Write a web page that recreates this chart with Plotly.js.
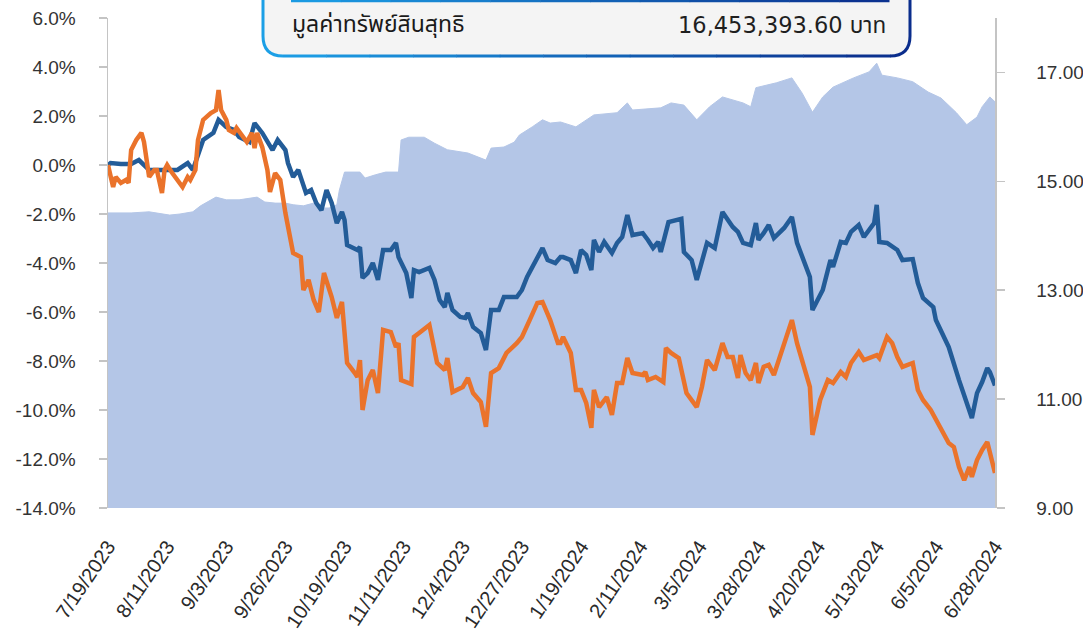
<!DOCTYPE html>
<html>
<head>
<meta charset="utf-8">
<script src="https://cdn.plot.ly/plotly-3.0.1.min.js"></script>
<style>html,body{margin:0;padding:0;background:#fff;}#chart{width:1083px;height:632px;}</style>
</head>
<body>
<div id="chart"></div>
<script>
// ---------- DATA ----------
const navDates = ['2023-07-19','2023-07-28','2023-08-04','2023-08-12','2023-08-16','2023-08-21','2023-08-24','2023-08-28','2023-08-30','2023-09-03',
'2023-09-08','2023-09-15','2023-09-18','2023-09-22','2023-09-26','2023-09-29','2023-10-03','2023-10-07','2023-10-09','2023-10-13',
'2023-10-16','2023-10-17','2023-10-19','2023-10-25','2023-10-27','2023-10-31','2023-11-04','2023-11-09','2023-11-10','2023-11-13',
'2023-11-19','2023-11-23','2023-11-28','2023-12-06','2023-12-13','2023-12-15','2023-12-20','2023-12-24','2023-12-26','2023-12-31',
'2024-01-04','2024-01-07','2024-01-11','2024-01-17','2024-01-24','2024-02-02','2024-02-06','2024-02-08','2024-02-19','2024-02-23',
'2024-02-28','2024-03-04','2024-03-09','2024-03-14','2024-03-22','2024-03-25','2024-03-27','2024-04-04','2024-04-10','2024-04-14',
'2024-04-18','2024-04-22','2024-04-26','2024-05-04','2024-05-10','2024-05-13','2024-05-15','2024-05-21','2024-05-27','2024-06-02',
'2024-06-07','2024-06-13','2024-06-17','2024-06-21','2024-06-23','2024-06-26','2024-06-28'];
const navValues = [14.42,14.42,14.44,14.38,14.40,14.44,14.55,14.66,14.71,14.66,
14.66,14.71,14.62,14.60,14.60,14.57,14.55,14.60,14.51,14.51,
14.57,14.84,15.17,15.17,15.06,15.12,15.17,15.17,15.76,15.81,
15.81,15.70,15.58,15.52,15.39,15.61,15.63,15.72,15.85,16.00,
16.13,16.07,16.09,16.00,16.22,16.26,16.44,16.31,16.35,16.44,
16.40,16.13,16.37,16.55,16.44,16.37,16.72,16.81,16.90,16.62,
16.27,16.55,16.73,16.90,17.01,17.17,16.95,16.90,16.83,16.64,
16.53,16.26,16.04,16.18,16.37,16.55,16.46];

const fundDates = ['2023-07-19','2023-07-20','2023-07-24','2023-07-28','2023-07-31','2023-08-04','2023-08-08','2023-08-15','2023-08-19','2023-08-21',
'2023-08-25','2023-08-29','2023-08-31','2023-09-03','2023-09-06','2023-09-08','2023-09-12','2023-09-14','2023-09-17','2023-09-21',
'2023-09-23','2023-09-26','2023-09-27','2023-09-29','2023-10-01','2023-10-02','2023-10-04','2023-10-06','2023-10-08','2023-10-10',
'2023-10-12','2023-10-14','2023-10-16','2023-10-18','2023-10-19','2023-10-20','2023-10-24','2023-10-25','2023-10-26','2023-10-28',
'2023-10-30','2023-11-01','2023-11-03','2023-11-06','2023-11-08','2023-11-09','2023-11-12','2023-11-14','2023-11-15','2023-11-17',
'2023-11-21','2023-11-23','2023-11-25','2023-11-27','2023-11-28','2023-11-30','2023-12-03','2023-12-05','2023-12-06','2023-12-08',
'2023-12-11','2023-12-13','2023-12-15','2023-12-18','2023-12-20','2023-12-25','2023-12-27','2023-12-29','2024-01-01','2024-01-04',
'2024-01-06','2024-01-09','2024-01-11','2024-01-12','2024-01-15','2024-01-17','2024-01-19','2024-01-21','2024-01-23','2024-01-24',
'2024-01-26','2024-01-28','2024-01-31','2024-02-02','2024-02-04','2024-02-06','2024-02-08','2024-02-12','2024-02-14','2024-02-16',
'2024-02-18','2024-02-19','2024-02-22','2024-02-27','2024-02-28','2024-03-02','2024-03-04','2024-03-08','2024-03-11','2024-03-14',
'2024-03-18','2024-03-20','2024-03-22','2024-03-25','2024-03-27','2024-03-28','2024-03-30','2024-04-01','2024-04-03','2024-04-07',
'2024-04-10','2024-04-12','2024-04-17','2024-04-18','2024-04-22','2024-04-24','2024-04-25','2024-04-26','2024-04-29','2024-05-01',
'2024-05-03','2024-05-06','2024-05-08','2024-05-12','2024-05-13','2024-05-14','2024-05-17','2024-05-21','2024-05-23','2024-05-27',
'2024-05-29','2024-05-31','2024-06-04','2024-06-05','2024-06-10','2024-06-14','2024-06-17','2024-06-19','2024-06-21','2024-06-23',
'2024-06-25','2024-06-26','2024-06-28'];
const fundValues = [0.0,0.08,0.04,0.04,0.20,-0.20,-0.20,-0.20,0.08,-0.20,
1.02,1.31,1.84,1.55,1.43,1.14,0.94,1.71,1.31,0.61,
1.02,0.61,0.08,-0.49,-0.20,-0.49,-1.14,-1.02,-1.55,-1.84,
-1.02,-1.55,-2.37,-1.92,-2.24,-3.27,-3.47,-3.35,-4.61,-4.41,
-4.00,-4.69,-3.47,-3.47,-3.18,-3.76,-4.41,-5.43,-4.29,-4.37,
-4.20,-4.69,-5.51,-5.80,-5.22,-5.92,-6.20,-6.24,-6.04,-6.61,
-6.86,-7.55,-5.92,-5.92,-5.39,-5.39,-5.10,-4.57,-4.00,-3.39,
-3.88,-4.00,-3.76,-3.76,-3.88,-4.41,-3.47,-3.67,-4.29,-3.06,
-3.55,-3.14,-3.59,-3.18,-2.94,-2.04,-2.86,-2.78,-3.06,-3.39,
-3.14,-3.55,-2.33,-2.20,-3.55,-3.88,-4.69,-3.18,-3.39,-1.92,
-2.53,-2.73,-3.18,-3.27,-2.37,-3.06,-2.78,-2.45,-2.98,-2.57,
-2.12,-3.18,-4.57,-5.92,-5.10,-4.29,-3.88,-4.16,-3.14,-3.18,
-2.73,-2.45,-2.94,-2.37,-1.63,-3.14,-3.18,-3.47,-3.88,-3.84,
-4.82,-5.43,-5.80,-6.33,-7.43,-8.78,-9.71,-10.33,-9.31,-8.86,
-8.29,-8.45,-9.00];

const benchDates = ['2023-07-19','2023-07-21','2023-07-22','2023-07-24','2023-07-26','2023-07-27','2023-07-28','2023-07-30','2023-08-01','2023-08-02',
'2023-08-04','2023-08-06','2023-08-07','2023-08-09','2023-08-10','2023-08-11','2023-08-13','2023-08-16','2023-08-17','2023-08-19',
'2023-08-20','2023-08-22','2023-08-23','2023-08-25','2023-08-28','2023-08-30','2023-08-31','2023-09-01','2023-09-03','2023-09-04',
'2023-09-06','2023-09-07','2023-09-10','2023-09-11','2023-09-13','2023-09-14','2023-09-15','2023-09-17','2023-09-19','2023-09-20',
'2023-09-22','2023-09-24','2023-09-26','2023-09-29','2023-10-02','2023-10-03','2023-10-05','2023-10-07','2023-10-09','2023-10-11',
'2023-10-14','2023-10-16','2023-10-18','2023-10-20','2023-10-23','2023-10-24','2023-10-25','2023-10-26','2023-10-28','2023-10-30',
'2023-11-01','2023-11-03','2023-11-06','2023-11-08','2023-11-09','2023-11-10','2023-11-14','2023-11-15','2023-11-17','2023-11-21',
'2023-11-24','2023-11-27','2023-11-28','2023-11-30','2023-12-04','2023-12-06','2023-12-08','2023-12-11','2023-12-13','2023-12-15',
'2023-12-18','2023-12-21','2023-12-25','2023-12-27','2023-12-30','2024-01-02','2024-01-04','2024-01-07','2024-01-10','2024-01-11',
'2024-01-12','2024-01-15','2024-01-17','2024-01-19','2024-01-21','2024-01-23','2024-01-24','2024-01-26','2024-01-29','2024-01-31',
'2024-02-02','2024-02-04','2024-02-06','2024-02-08','2024-02-12','2024-02-13','2024-02-14','2024-02-17','2024-02-20','2024-02-21',
'2024-02-23','2024-02-26','2024-02-29','2024-03-04','2024-03-06','2024-03-08','2024-03-11','2024-03-14','2024-03-16','2024-03-18',
'2024-03-20','2024-03-21','2024-03-23','2024-03-25','2024-03-27','2024-03-28','2024-03-30','2024-04-01','2024-04-03','2024-04-06',
'2024-04-10','2024-04-12','2024-04-17','2024-04-18','2024-04-21','2024-04-24','2024-04-26','2024-04-29','2024-05-01','2024-05-03',
'2024-05-06','2024-05-08','2024-05-13','2024-05-14','2024-05-17','2024-05-19','2024-05-21','2024-05-23','2024-05-27','2024-05-29',
'2024-05-31','2024-06-03','2024-06-05','2024-06-10','2024-06-12','2024-06-14','2024-06-16','2024-06-18','2024-06-19','2024-06-21',
'2024-06-23','2024-06-25','2024-06-28'];
const benchValues = [0.0,-0.90,-0.49,-0.73,-0.61,-0.73,0.61,1.02,1.31,0.94,
-0.49,-0.20,-0.20,-1.14,-0.20,0.0,-0.33,-0.73,-0.90,-0.49,
-0.61,-0.20,1.02,1.84,2.12,2.24,3.06,2.24,1.84,1.43,
1.31,1.51,1.10,0.94,1.31,0.69,1.31,0.73,-0.20,-1.10,
-0.33,-0.61,-1.96,-3.59,-3.76,-5.10,-4.69,-5.51,-6.00,-4.41,
-5.39,-6.24,-5.59,-8.08,-8.49,-8.65,-7.96,-10.00,-8.78,-8.37,
-9.31,-6.73,-6.82,-7.43,-7.27,-8.78,-8.94,-7.02,-6.86,-6.53,
-8.08,-8.37,-7.88,-9.27,-9.06,-8.69,-9.31,-9.67,-10.69,-8.49,
-8.29,-7.67,-7.27,-7.02,-6.33,-5.63,-5.59,-6.33,-7.27,-7.27,
-7.02,-7.67,-9.18,-9.18,-9.71,-10.73,-9.18,-9.88,-9.47,-10.20,
-8.90,-8.90,-7.88,-8.49,-8.57,-8.45,-8.78,-8.65,-8.86,-7.47,
-7.67,-7.88,-9.31,-9.88,-9.06,-7.96,-8.37,-7.27,-7.84,-7.84,
-8.69,-7.76,-8.49,-8.78,-8.08,-8.90,-8.24,-8.16,-8.57,-7.55,
-6.33,-7.27,-9.06,-11.02,-9.59,-8.78,-8.90,-8.45,-8.65,-8.08,
-7.63,-7.96,-7.76,-7.88,-7.02,-7.27,-7.84,-8.24,-8.08,-9.18,
-9.59,-10.00,-10.41,-11.35,-11.51,-12.33,-12.86,-12.33,-12.73,-12.04,
-11.63,-11.31,-12.57];

const xTickVals = ['2023-07-19','2023-08-11','2023-09-03','2023-09-26','2023-10-19','2023-11-11','2023-12-04','2023-12-27',
'2024-01-19','2024-02-11','2024-03-05','2024-03-28','2024-04-20','2024-05-13','2024-06-05','2024-06-28'];
const xTickText = ['7/19/2023','8/11/2023','9/3/2023','9/26/2023','10/19/2023','11/11/2023','12/4/2023','12/27/2023',
'1/19/2024','2/11/2024','3/5/2024','3/28/2024','4/20/2024','5/13/2024','6/5/2024','6/28/2024'];
const pctTickVals = [-14,-12,-10,-8,-6,-4,-2,0,2,4,6];
const pctTickText = ['-14.0%','-12.0%','-10.0%','-8.0%','-6.0%','-4.0%','-2.0%','0.0%','2.0%','4.0%','6.0%'];
const navTickVals = [9,11,13,15,17];

const boxLabel = 'มูลค่าทรัพย์สินสุทธิ';
const boxValue = '16,453,393.60 บาท';

// ---------- LAYOUT HELPERS ----------
const W = 1083, H = 632;
const PL = 108, PR = 995, PT = 18, PB = 508;
const fx = x => (x - PL) / (PR - PL);
const fy = y => (PB - y) / (PB - PT);
const pt = (x, y) => fx(x).toFixed(5) + ',' + fy(y).toFixed(5);

function mix(c0, c1, t) {
  const a = [1,3,5].map(i => parseInt(c0.substr(i,2),16));
  const b = [1,3,5].map(i => parseInt(c1.substr(i,2),16));
  return 'rgb(' + a.map((v,k) => Math.round(v + (b[k]-v)*t)).join(',') + ')';
}

const bx = {L: 263, R: 910, T: -30, B: 56, r: 20};
const cA = '#1c9fe6', cB = '#0a2d8c';
const shapes = [];
shapes.push({type:'path', xref:'paper', yref:'paper', layer:'above',
  path: 'M' + pt(bx.L,bx.T) + ' L' + pt(bx.L,bx.B-bx.r) + ' Q' + pt(bx.L,bx.B) + ' ' + pt(bx.L+bx.r,bx.B) +
        ' L' + pt(bx.R-bx.r,bx.B) + ' Q' + pt(bx.R,bx.B) + ' ' + pt(bx.R,bx.B-bx.r) + ' L' + pt(bx.R,bx.T) + ' Z',
  fillcolor:'#f4f4f4', line:{width:0}});
shapes.push({type:'path', xref:'paper', yref:'paper', layer:'above',
  path: 'M' + pt(bx.L,bx.T) + ' L' + pt(bx.L,bx.B-bx.r) + ' Q' + pt(bx.L,bx.B) + ' ' + pt(bx.L+bx.r,bx.B),
  line:{color:cA, width:3}});
const N = 14;
for (let i = 0; i < N; i++) {
  const x0 = bx.L + bx.r + (bx.R - bx.L - 2*bx.r) * i / N;
  const x1 = bx.L + bx.r + (bx.R - bx.L - 2*bx.r) * (i+1) / N;
  shapes.push({type:'line', xref:'paper', yref:'paper', layer:'above',
    x0: fx(x0), x1: fx(x1 + 0.5), y0: fy(bx.B), y1: fy(bx.B),
    line:{color: mix(cA, cB, (i+0.5)/N), width:3}});
}
shapes.push({type:'path', xref:'paper', yref:'paper', layer:'above',
  path: 'M' + pt(bx.R-bx.r,bx.B) + ' Q' + pt(bx.R,bx.B) + ' ' + pt(bx.R,bx.B-bx.r) + ' L' + pt(bx.R,bx.T),
  line:{color:cB, width:3}});
const M = 12, lx0 = 291, lx1 = 889;
for (let i = 0; i < M; i++) {
  const x0 = lx0 + (lx1-lx0)*i/M, x1 = lx0 + (lx1-lx0)*(i+1)/M;
  shapes.push({type:'line', xref:'paper', yref:'paper', layer:'above',
    x0: fx(x0), x1: fx(x1 + 0.5), y0: fy(1), y1: fy(1),
    line:{color: mix(cA, cB, (i+0.5)/M), width:2.5}});
}

const axisFont = {family:'"Liberation Sans", Arial, sans-serif', size:19, color:'#333333'};
const xFont = {family:'"Liberation Sans", Arial, sans-serif', size:20, color:'#2a2a2a'};
const thaiLabelFont = {family:'"Noto Sans Thai", "Noto Sans Thai Looped", Loma, Garuda, "Noto Sans", sans-serif', size:23, color:'#1a1a1a'};
const thaiValueFont = {family:'"DejaVu Sans", "Noto Sans Thai", Loma, Garuda, sans-serif', size:22.5, color:'#1f1f1f'};

const traces = [
  {x: navDates, y: navValues, type:'scatter', mode:'lines', yaxis:'y',
   fill:'tozeroy', fillcolor:'#b4c6e7', line:{color:'#b4c6e7', width:1}, hoverinfo:'skip', name:'NAV'},
  {x: fundDates, y: fundValues, type:'scatter', mode:'lines', yaxis:'y2',
   line:{color:'#235c98', width:4.5}, name:'Fund'},
  {x: benchDates, y: benchValues, type:'scatter', mode:'lines', yaxis:'y2',
   line:{color:'#ea732b', width:4.5}, name:'Benchmark'}
];

const layout = {
  width: W, height: H,
  margin: {l: PL, r: W - PR, t: PT, b: H - PB, pad: 0},
  paper_bgcolor:'#ffffff', plot_bgcolor:'#ffffff',
  showlegend:false,
  xaxis: {type:'date', range:['2023-07-19','2024-06-28'], tickmode:'array', tickvals:xTickVals, ticktext:xTickText,
    tickangle:-56, tickfont:xFont, showgrid:false, zeroline:false, showline:false, ticks:'', ticklabelstandoff:22},
  yaxis: {side:'right', range:[9,18], tickmode:'array', tickvals:navTickVals, tickformat:'.2f',
    tickfont:axisFont, showgrid:false, zeroline:false, showline:true, linecolor:'#c4c4c4', linewidth:1.5,
    ticks:'outside', ticklen:8, tickcolor:'#c4c4c4', tickwidth:1.5, ticklabelstandoff:28},
  yaxis2: {overlaying:'y', side:'left', range:[-14,6], tickmode:'array', tickvals:pctTickVals, ticktext:pctTickText,
    tickfont:axisFont, showgrid:false, zeroline:false, showline:true, linecolor:'#c4c4c4', linewidth:1.5,
    ticks:'outside', ticklen:8, tickcolor:'#c4c4c4', tickwidth:1.5, ticklabelstandoff:19},
  shapes: shapes,
  annotations: [
    {xref:'paper', yref:'paper', x:fx(290), y:fy(25), xanchor:'left', yanchor:'middle', showarrow:false,
     text: boxLabel, font: thaiLabelFont},
    {xref:'paper', yref:'paper', x:fx(888), y:fy(25), xanchor:'right', yanchor:'middle', showarrow:false,
     text: boxValue, font: thaiValueFont}
  ]
};

Plotly.newPlot('chart', traces, layout, {displayModeBar:false, staticPlot:true});
</script>
</body>
</html>
